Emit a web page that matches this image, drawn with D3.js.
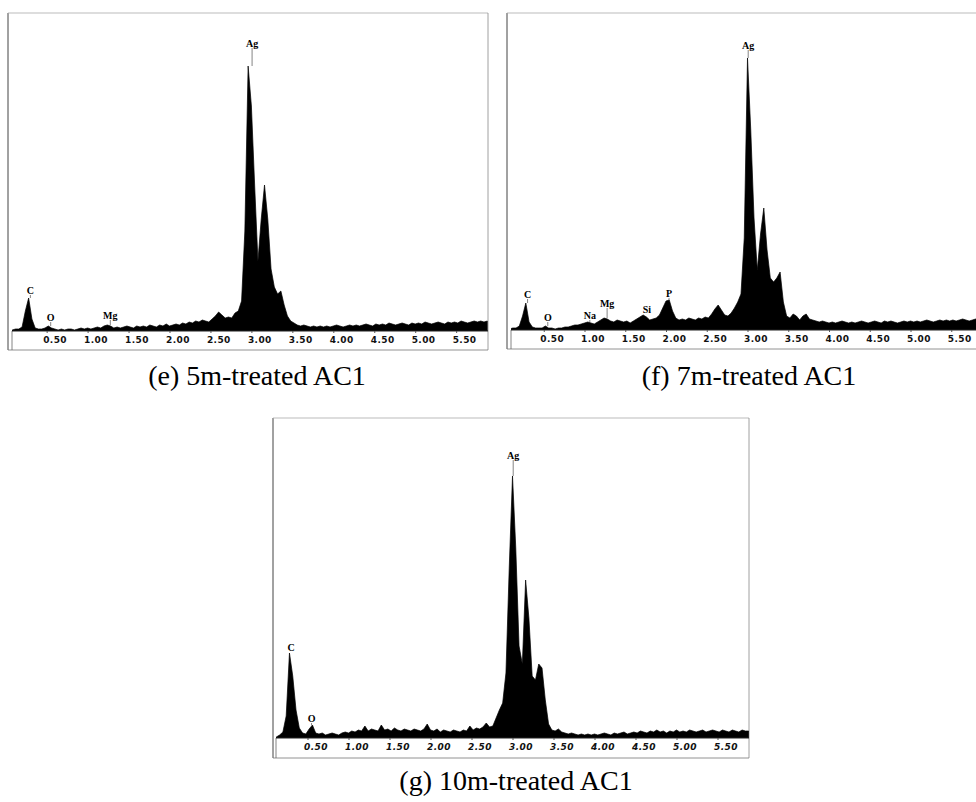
<!DOCTYPE html>
<html>
<head>
<meta charset="utf-8">
<script src="https://cdn.jsdelivr.net/npm/d3@7/dist/d3.min.js"></script>
<style>
  body { margin: 0; background: #fff; }
  svg { display: block; }
</style>
</head>
<body>
<svg id="fig" width="976" height="802"></svg>
<script>
// EDS spectra of treated AC1 samples, one count per 0.04 keV channel.
const energies = [
  0.04,0.08,0.12,0.16,0.20,0.24,0.28,0.32,0.36,0.40,0.44,0.48,0.52,0.56,0.60,0.64,0.68,0.72,0.76,0.80,0.84,0.88,0.92,0.96,1.00,
  1.04,1.08,1.12,1.16,1.20,1.24,1.28,1.32,1.36,1.40,1.44,1.48,1.52,1.56,1.60,1.64,1.68,1.72,1.76,1.80,1.84,1.88,1.92,1.96,2.00,
  2.04,2.08,2.12,2.16,2.20,2.24,2.28,2.32,2.36,2.40,2.44,2.48,2.52,2.56,2.60,2.64,2.68,2.72,2.76,2.80,2.84,2.88,2.92,2.96,3.00,
  3.04,3.08,3.12,3.16,3.20,3.24,3.28,3.32,3.36,3.40,3.44,3.48,3.52,3.56,3.60,3.64,3.68,3.72,3.76,3.80,3.84,3.88,3.92,3.96,4.00,
  4.04,4.08,4.12,4.16,4.20,4.24,4.28,4.32,4.36,4.40,4.44,4.48,4.52,4.56,4.60,4.64,4.68,4.72,4.76,4.80,4.84,4.88,4.92,4.96,5.00,
  5.04,5.08,5.12,5.16,5.20,5.24,5.28,5.32,5.36,5.40,5.44,5.48,5.52,5.56,5.60,5.64,5.68,5.72,5.76,5.80,5.84,5.88
];

const counts5m = [
  0,1,2,2,4,20,33,12,3,2,2,3,5,3,2,1,2,1,2,2,1,2,3,2,3,
  2,3,4,3,5,6,5,3,4,3,4,5,4,3,5,4,5,4,6,5,4,6,5,7,5,
  6,7,6,8,7,9,8,10,9,11,10,9,12,15,19,16,13,14,13,18,20,30,100,265,225,
  145,70,112,146,112,62,44,37,40,26,15,10,8,6,5,6,5,4,5,4,5,4,5,4,5,
  6,5,4,5,6,5,6,5,6,7,6,5,7,6,7,6,8,7,6,7,8,7,6,8,7,
  8,7,9,8,7,8,9,8,7,9,8,9,8,10,9,8,9,10,9,10,9,10
];

const counts7m = [
  0,1,2,2,4,14,27,8,3,2,2,2,4,2,2,1,2,2,3,3,4,5,5,6,7,
  8,7,6,8,10,12,11,9,8,10,9,8,9,7,9,11,13,15,13,10,11,12,15,22,29,
  30,19,12,10,11,10,12,11,10,12,11,13,12,16,21,25,20,15,14,17,22,28,36,92,272,
  200,112,60,96,122,80,52,48,52,58,28,14,12,16,14,10,14,16,11,10,9,8,9,8,7,
  8,7,8,9,8,7,8,7,8,9,8,7,8,9,8,7,9,8,9,8,7,8,9,8,9,
  8,9,8,9,10,9,8,9,10,9,10,9,10,9,10,11,10,9,10,11,10,11
];

const counts10m = [
  0,0,1,3,6,22,85,62,28,10,5,4,9,13,5,4,5,3,4,5,4,3,5,6,5,
  7,6,8,7,12,7,9,8,7,13,8,9,7,10,8,7,9,8,7,9,8,7,9,14,8,
  7,9,6,8,7,6,8,7,6,8,7,12,8,10,9,11,15,11,12,20,28,35,65,170,262,
  190,92,74,158,120,62,58,74,70,38,14,8,7,9,6,5,4,5,4,3,4,3,4,3,4,
  3,4,5,4,3,5,4,5,6,4,5,6,5,7,6,5,7,6,8,6,7,5,7,6,8,
  6,7,6,8,7,6,7,8,6,7,8,7,6,8,7,6,8,7,6,8,7,7
];

const tickValues = [0.5, 1.0, 1.5, 2.0, 2.5, 3.0, 3.5, 4.0, 4.5, 5.0, 5.5];

// Element lines: name, line energy (keV), label anchor level (counts)
const peaks5m = [
  { el: "C",  keV: 0.277, level: 41 },
  { el: "O",  keV: 0.525, level: 14 },
  { el: "Mg", keV: 1.253, level: 16 },
  { el: "Ag", keV: 2.984, level: 288 }
];
const peaks7m = [
  { el: "C",  keV: 0.277, level: 36 },
  { el: "O",  keV: 0.525, level: 13 },
  { el: "Na", keV: 1.041, level: 15 },
  { el: "Mg", keV: 1.253, level: 27 },
  { el: "Si", keV: 1.740, level: 21 },
  { el: "P",  keV: 2.013, level: 37 },
  { el: "Ag", keV: 2.984, level: 285 }
];
const peaks10m = [
  { el: "C",  keV: 0.277, level: 91 },
  { el: "O",  keV: 0.525, level: 20 },
  { el: "Ag", keV: 2.984, level: 283 }
];

const captions = ["(e) 5m-treated AC1", "(f) 7m-treated AC1", "(g) 10m-treated AC1"];

// Panel layout
const panels = [
  { counts: counts5m, peaks: peaks5m, caption: captions[0],
    frame: { l: 8, t: 13, r: 488, b: 350 }, stripL: 12, axisY: 331,
    x0: 5.7, kx: 81.9, italic: false, capX: 257, capY: 385 },
  { counts: counts7m, peaks: peaks7m, caption: captions[1],
    frame: { l: 507, t: 13, r: 995, b: 349 }, stripL: 511, axisY: 330,
    x0: 503, kx: 81.5, italic: false, capX: 749, capY: 385 },
  { counts: counts10m, peaks: peaks10m, caption: captions[2],
    frame: { l: 273, t: 418, r: 749, b: 758 }, stripL: 276, axisY: 738,
    x0: 266.5, kx: 82, italic: true, capX: 516, capY: 790 }
];

const svg = d3.select("#fig");
const fmt = d3.format(".2f");

panels.forEach((p, i) => {
  const g = svg.append("g");
  const f = p.frame;

  const x = d3.scaleLinear().domain([0, 6]).range([p.x0, p.x0 + 6 * p.kx]);
  const y = d3.scaleLinear().domain([0, 320]).range([p.axisY, p.axisY - 320]);

  const clipId = "clip" + i;
  svg.append("defs").append("clipPath").attr("id", clipId)
    .append("rect")
    .attr("x", p.stripL).attr("y", f.t)
    .attr("width", f.r - p.stripL).attr("height", p.axisY - f.t);

  // frame
  const line = (x1, y1, x2, y2, c, w) => g.append("line")
    .attr("x1", x1).attr("y1", y1).attr("x2", x2).attr("y2", y2)
    .attr("stroke", c).attr("stroke-width", w);
  line(f.l, f.t, f.l, f.b, "#444", 1);
  line(f.l, f.t, f.r, f.t, "#aaa", 0.8);
  line(f.r, f.t, f.r, f.b, "#888", 0.8);
  line(f.l, f.b, f.r, f.b, "#777", 0.8);
  line(p.stripL, p.axisY, p.stripL, f.b, "#666", 0.8);

  // spectrum
  const data = energies.map((e, k) => ({ e, c: p.counts[k] }));
  const area = d3.area()
    .x(d => x(d.e))
    .y0(y(0))
    .y1(d => y(d.c))
    .curve(d3.curveLinear);
  g.append("path")
    .datum(data)
    .attr("clip-path", `url(#${clipId})`)
    .attr("d", area)
    .attr("fill", "#000")
    .attr("stroke", "#000")
    .attr("stroke-width", 0.7)
    .attr("stroke-linejoin", "round");

  // energy axis
  line(p.stripL, p.axisY, f.r, p.axisY, "#222", 1);
  const ax = g.append("g")
    .attr("transform", `translate(0,${p.axisY})`)
    .call(d3.axisBottom(x).tickValues(tickValues).tickFormat(fmt).tickSize(2));
  ax.select(".domain").remove();
  ax.selectAll(".tick line").attr("stroke", "#555");
  ax.selectAll(".tick text")
    .attr("text-anchor", "start")
    .attr("x", -4)
    .attr("y", 9)
    .attr("dy", "0.35em")
    .attr("fill", "#111")
    .style("font-family", "'DejaVu Sans', sans-serif")
    .style("font-size", "9px")
    .style("font-weight", "bold")
    .style("font-style", p.italic ? "italic" : "normal")
    .style("letter-spacing", "0.4px");

  // element labels with leader lines
  p.peaks.forEach(pk => {
    const lx = x(pk.keV) + 2;
    const ly = y(pk.level);
    g.append("text")
      .attr("x", lx).attr("y", ly)
      .attr("dy", "0.35em")
      .attr("text-anchor", "middle")
      .style("font-family", "'Liberation Serif', serif")
      .style("font-weight", "bold")
      .style("font-size", "10px")
      .attr("fill", "#000")
      .text(pk.el);
    const near = data.filter(d => Math.abs(d.e - pk.keV) <= 0.05);
    const top = d3.max(near, d => d.c);
    const yTop = y(top);
    if (yTop - (ly + 5) > 1) {
      line(lx, ly + 5, lx, yTop, "#333", 0.6);
    }
  });

  // caption
  svg.append("text")
    .attr("x", p.capX).attr("y", p.capY)
    .attr("text-anchor", "middle")
    .style("font-family", "'Liberation Serif', 'Times New Roman', serif")
    .style("font-size", "28px")
    .attr("fill", "#000")
    .text(p.caption);
});
</script>
</body>
</html>
